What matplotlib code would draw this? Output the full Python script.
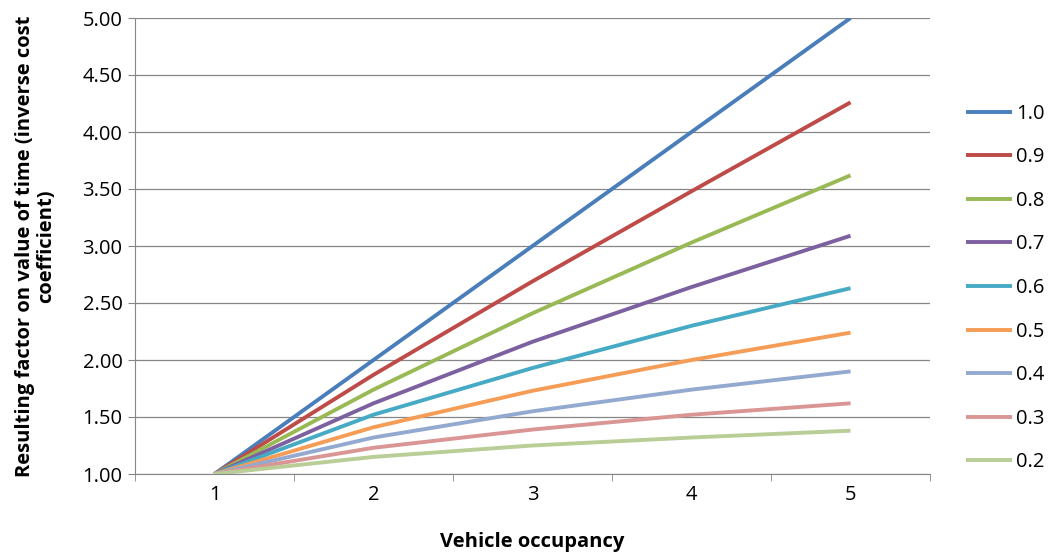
import matplotlib.pyplot as plt
import numpy as np

plt.rcParams['font.family'] = ['Open Sans', 'DejaVu Sans']

occupancy = [1, 2, 3, 4, 5]
series_names = ["1.0", "0.9", "0.8", "0.7", "0.6", "0.5", "0.4", "0.3", "0.2"]
s10 = [1.00, 2.00, 3.00, 4.00, 5.00]
s09 = [1.00, 1.87, 2.69, 3.48, 4.26]
s08 = [1.00, 1.74, 2.41, 3.03, 3.62]
s07 = [1.00, 1.62, 2.16, 2.64, 3.09]
s06 = [1.00, 1.52, 1.93, 2.30, 2.63]
s05 = [1.00, 1.41, 1.73, 2.00, 2.24]
s04 = [1.00, 1.32, 1.55, 1.74, 1.90]
s03 = [1.00, 1.23, 1.39, 1.52, 1.62]
s02 = [1.00, 1.15, 1.25, 1.32, 1.38]
all_series = [s10, s09, s08, s07, s06, s05, s04, s03, s02]
colors = ["#4A7EBB", "#BE4B48", "#98B954", "#7D60A0", "#46AAC5",
          "#F59D56", "#93A9D0", "#D99694", "#B9CD96"]

fig = plt.figure(figsize=(10.52, 5.55), dpi=100)
ax = fig.add_axes([135/1052, 1-474/555, 795/1052, 456/555])

for name, vals, c in zip(series_names, all_series, colors):
    ax.plot(occupancy, vals, color=c, lw=2.8, label=name, solid_capstyle='butt')

ax.set_xlim(0.5, 5.5)
ax.set_ylim(1.0, 5.0)
ax.set_yticks(np.arange(1.0, 5.01, 0.5))
ax.set_yticklabels([f"{v:.2f}" for v in np.arange(1.0, 5.01, 0.5)], fontsize=14.5)
ax.set_xticks(occupancy)
ax.set_xticklabels([str(v) for v in occupancy], fontsize=14.5)
ax.tick_params(axis='x', length=0, pad=8)
ax.set_xticks(np.arange(0.5, 5.6, 1.0), minor=True)
ax.tick_params(axis='x', which='minor', length=5, color='#868686')
ax.tick_params(axis='y', length=5, color='#868686', pad=4)
ax.yaxis.grid(True, color='#868686', lw=0.9)
ax.set_axisbelow(True)
for side in ['top', 'right']:
    ax.spines[side].set_visible(False)
for side in ['left', 'bottom']:
    ax.spines[side].set_color('#868686')

ax.set_xlabel("Vehicle occupancy", fontsize=14.5, fontweight='bold', labelpad=19)
ax.set_ylabel("Resulting factor on value of time (inverse cost\ncoefficient)",
              fontsize=14.5, fontweight='bold', labelpad=19, linespacing=1.05)

fig.legend(loc='center left', bbox_to_anchor=(948/1052, 1-288/555), frameon=False,
           fontsize=14.5, handlelength=2.3, labelspacing=1.17, handletextpad=0.2)

fig.savefig("out.png", dpi=100)
